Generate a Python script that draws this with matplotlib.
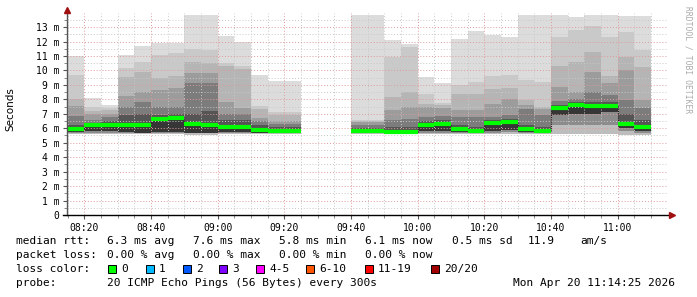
import matplotlib
matplotlib.use("Agg")
import matplotlib.pyplot as plt
import numpy as np

# 5-minute slots (start time), values in milliseconds
slots = ["08:15", "08:20", "08:25", "08:30", "08:35", "08:40", "08:45", "08:50",
         "08:55", "09:00", "09:05", "09:10", "09:15", "09:20",
         "09:40", "09:45", "09:50", "09:55", "10:00", "10:05", "10:10", "10:15",
         "10:20", "10:25", "10:30", "10:35", "10:40", "10:45", "10:50", "10:55",
         "11:00", "11:05"]

top = [11.0, 8.1, 7.6, 11.1, 11.7, 11.87, 11.87, 13.83, 13.83, 12.4, 12.0, 9.68, 9.27, 9.27,
       13.83, 13.83, 12.1, 11.8, 9.52, 9.15, 12.17, 12.73, 12.45, 12.3, 13.83, 13.83,
       13.83, 13.67, 13.83, 13.83, 13.76, 13.76]
p5 = [9.68, 7.5, 7.4, 10.15, 10.6, 11.07, 11.2, 11.5, 11.4, 10.5, 10.3, 7.54, 7.15, 7.15,
      6.57, 6.57, 10.95, 11.6, 8.37, 7.77, 9.0, 9.2, 9.6, 9.7, 9.34, 9.2,
      12.33, 12.8, 13.1, 12.3, 12.68, 11.4]
p4 = [8.0, 7.2, 7.26, 9.57, 9.9, 9.45, 9.6, 10.6, 10.5, 10.3, 10.1, 7.3, 6.9, 6.9,
      6.5, 6.5, 8.18, 8.53, 7.68, 7.6, 8.37, 8.4, 8.7, 8.8, 7.95, 7.5,
      10.3, 10.6, 11.3, 9.6, 10.95, 10.26]
p3 = [7.54, 7.0, 7.0, 8.2, 8.5, 8.64, 8.8, 9.8, 9.8, 7.8, 7.4, 6.74, 6.52, 6.52,
      6.4, 6.4, 7.26, 7.45, 7.5, 7.4, 7.26, 7.26, 7.7, 8.0, 7.6, 7.3,
      8.87, 8.53, 9.86, 9.1, 10.0, 7.95]
p2 = [6.85, 6.57, 6.8, 7.5, 7.8, 7.5, 7.5, 9.1, 9.1, 7.0, 7.0, 6.5, 6.3, 6.3,
      6.2, 6.2, 6.57, 6.66, 6.76, 6.85, 6.8, 6.8, 6.8, 6.9, 7.3, 6.9,
      7.9, 8.0, 8.5, 8.3, 7.95, 7.4]
p1 = [6.2, 6.35, 6.5, 6.92, 7.0, 6.9, 7.0, 7.0, 7.2, 6.6, 6.6, 6.2, 6.1, 6.1,
      6.0, 6.0, 6.1, 6.1, 6.5, 6.55, 6.2, 6.1, 6.55, 6.65, 6.2, 6.1,
      7.6, 7.8, 7.8, 7.8, 7.0, 6.6]
median = [5.93, 6.2, 6.25, 6.25, 6.25, 6.64, 6.7, 6.3, 6.25, 6.06, 6.06, 5.88, 5.83, 5.83,
          5.83, 5.83, 5.76, 5.76, 6.25, 6.31, 5.93, 5.83, 6.33, 6.43, 5.95, 5.83,
          7.38, 7.6, 7.54, 7.54, 6.3, 6.1]
lo1 = [5.75, 5.8, 5.8, 5.75, 5.7, 5.75, 5.75, 5.7, 5.7, 5.75, 5.75, 5.7, 5.7, 5.7,
       5.7, 5.7, 5.65, 5.65, 5.8, 5.8, 5.75, 5.7, 5.8, 5.85, 5.75, 5.7,
       6.9, 7.0, 7.0, 7.1, 6.0, 5.8]
lo2 = [5.7, 5.7, 5.7, 5.7, 5.65, 5.7, 5.7, 5.65, 5.65, 5.7, 5.7, 5.65, 5.65, 5.65,
       5.65, 5.65, 5.62, 5.62, 5.7, 5.7, 5.7, 5.65, 5.7, 5.75, 5.7, 5.65,
       6.2, 6.2, 6.2, 6.2, 5.8, 5.7]
low = [5.6, 5.6, 5.6, 5.6, 5.6, 5.6, 5.6, 5.5, 5.5, 5.6, 5.6, 5.6, 5.6, 5.6,
       5.6, 5.6, 5.6, 5.6, 5.6, 5.6, 5.6, 5.6, 5.6, 5.6, 5.6, 5.6,
       5.6, 5.6, 5.6, 5.6, 5.5, 5.5]

def minutes(s):
    h, m = s.split(":")
    return (int(h) - 8) * 60 + int(m)

x = np.array([minutes(s) for s in slots], dtype=float)

fig = plt.figure(figsize=(6.97, 2.97), dpi=100)
ax = fig.add_axes([67 / 697, 1 - 215 / 297, 600 / 697, 202.4 / 297])
ax.set_xlim(14.8, 194.8)
ax.set_ylim(0, 14.0)

bands = [(p5, top, "#dcdcdc"), (p4, p5, "#c9c9c9"), (p3, p4, "#b5b5b5"),
         (p2, p3, "#9c9c9c"), (p1, p2, "#7c7c7c"), (median, p1, "#555555"),
         (lo1, median, "#363636"), (lo2, lo1, "#8c8c8c"), (low, lo2, "#bdbdbd")]
for lo_v, hi_v, col in bands:
    lo_v = np.array(lo_v)
    hi_v = np.array(hi_v)
    ax.bar(x, hi_v - lo_v, bottom=lo_v, width=5, align="edge", color=col,
           linewidth=0, zorder=1)

# median: dark connectors + green loss-coloured segments
med = np.array(median)
for i in range(len(x) - 1):
    if x[i + 1] - x[i] == 5:
        ax.plot([x[i + 1], x[i + 1]], [med[i], med[i + 1]], color="#222222",
                lw=0.8, ls=(0, (1, 1)), zorder=3)
ax.hlines(med, x, x + 5, color="#00ff00", lw=3.0, zorder=4)

# grid
ax.set_xticks(np.arange(20, 195, 20))
ax.set_xticks(np.arange(15, 195, 5), minor=True)
ax.set_xticklabels(["%02d:%02d" % (8 + v // 60, v % 60) for v in range(20, 195, 20)])
ax.set_yticks(np.arange(0, 14, 1))
ax.set_yticks(np.arange(0.5, 14, 0.5), minor=True)
ax.set_yticklabels(["0"] + ["%d m" % v for v in range(1, 14)])
ax.grid(which="minor", color="#c8c8c8", lw=0.7, ls=(0, (1, 2)), zorder=2)
ax.grid(which="major", color="#e09a9a", lw=0.7, ls=(0, (1, 2)), zorder=2)
ax.set_axisbelow(False)

for sp in ax.spines.values():
    sp.set_visible(False)
ax.plot([0, 0], [0, 1.012], transform=ax.transAxes, color="#555555", lw=1,
        clip_on=False, zorder=5)
ax.plot([-0.007, 1.007], [0, 0], transform=ax.transAxes, color="#000000", lw=1,
        clip_on=False, zorder=5)
ax.plot([0], [1.015], marker="^", ms=4, color="#a01010", transform=ax.transAxes,
        clip_on=False, zorder=6)
ax.plot([1.008], [0], marker=">", ms=4, color="#a01010", transform=ax.transAxes,
        clip_on=False, zorder=6)

mono = "DejaVu Sans Mono"
ax.tick_params(which="major", length=3, width=0.8, color="#555555", pad=2.5,
               labelsize=7, labelfontfamily=mono)
ax.tick_params(which="minor", length=2, width=0.6, color="#777777")

fig.text(10 / 697, 1 - 109 / 297, "Seconds", rotation=90, ha="center",
         va="center", fontsize=7.5, family="DejaVu Sans")
fig.text(688 / 697, 1 - 60 / 297, "RRDTOOL / TOBI OETIKER", rotation=270,
         ha="center", va="center", fontsize=5.8, family=mono, color="#aaaaaa")

fs = 8

def t(px, py, s):
    fig.text(px / 697, 1 - py / 297, s, ha="left", va="center", fontsize=fs,
             family=mono)

t(16, 241, "median rtt:")
t(107, 241, "6.3 ms avg")
t(193, 241, "7.6 ms max")
t(279, 241, "5.8 ms min")
t(365, 241, "6.1 ms now")
t(452, 241, "0.5 ms sd")
t(528, 241, "11.9")
t(580, 241, "am/s")

t(16, 255, "packet loss:")
t(107, 255, "0.00 % avg")
t(193, 255, "0.00 % max")
t(279, 255, "0.00 % min")
t(365, 255, "0.00 % now")

loss_labels = ["0", "1", "2", "3", "4-5", "6-10", "11-19", "20/20"]
loss_colors = ["#00ff00", "#00b8ff", "#0059ff", "#7e00ff", "#ff00ff",
               "#ff5500", "#ff0000", "#a10000"]
box_x = [108, 146, 183, 219, 256, 306, 365, 431]
t(16, 269, "loss color:")
for bx, lab, col in zip(box_x, loss_labels, loss_colors):
    fig.patches.append(plt.Rectangle((bx / 697, 1 - 273 / 297), 8 / 697, 8 / 297,
                                     transform=fig.transFigure, facecolor=col,
                                     edgecolor="black", lw=0.7))
    t(bx + 13, 269, lab)

t(16, 283, "probe:")
t(107, 283, "20 ICMP Echo Pings (56 Bytes) every 300s")
t(513, 283, "Mon Apr 20 11:14:25 2026")

fig.savefig("out.png", dpi=100)
